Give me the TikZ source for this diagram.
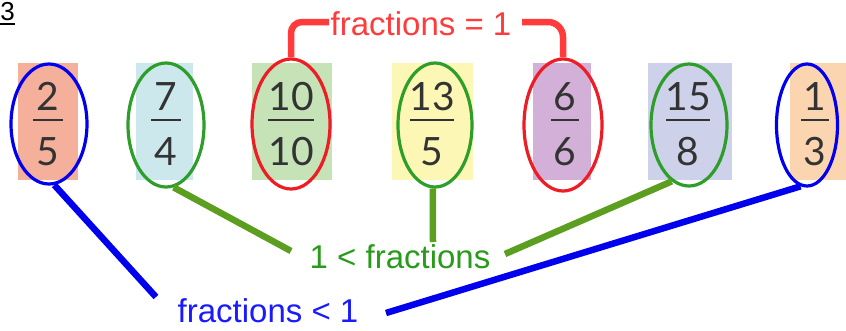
\documentclass[tikz,border=0pt]{standalone}
\usepackage{fontspec}
\usetikzlibrary{shapes.geometric}
\newfontfamily\fracfont{Lato}
\newfontfamily\labfont{Liberation Sans}
\definecolor{cA}{HTML}{F4B09A}
\definecolor{cB}{HTML}{CCE8EC}
\definecolor{cC}{HTML}{C5E3B6}
\definecolor{cD}{HTML}{FDF7B5}
\definecolor{cE}{HTML}{D3B0D8}
\definecolor{cF}{HTML}{CDD1EA}
\definecolor{cG}{HTML}{FBD5B0}
\definecolor{ringblue}{HTML}{0000EE}
\definecolor{ringgreen}{HTML}{2E9E2A}
\definecolor{ringred}{HTML}{EE1C25}
\definecolor{linkgreen}{HTML}{5C9E1F}
\definecolor{linkred}{HTML}{FF3B3B}
\definecolor{txtgreen}{HTML}{2A9A1C}
\definecolor{txtblue}{HTML}{1A1AFF}
\definecolor{digit}{HTML}{333333}
\tikzset{
  card/.style={fill=#1, draw=none},
  ring/.style={ellipse, draw=#1, line width=3.2pt, inner sep=0pt, fill=none},
  num/.style={font=\fracfont\fontsize{39}{39}\selectfont, text=digit, inner sep=0pt, anchor=base},
  bar/.style={draw=digit, line width=2pt},
  lab/.style={font=\labfont\fontsize{33}{33}\selectfont, inner sep=0pt, anchor=base},
  link/.style={line width=6.5pt, draw=#1},
}
\begin{document}
\begin{tikzpicture}[x=1pt,y=-1pt]
\clip (0,0) rectangle (846,330);
\fill[white] (0,0) rectangle (846,330);
% title
\node[font=\labfont\fontsize{26}{26}\selectfont, inner sep=0pt, anchor=base east, text=black] (title) at (15,20.5) {3};
\draw[line width=1.6pt] (0,24) -- (15,24);
% cards
\fill[card=cA] (18,63) rectangle (78,180);
\fill[card=cB] (136,63) rectangle (193,180);
\fill[card=cC] (252,63) rectangle (332,180);
\fill[card=cD] (392,63) rectangle (473,180);
\fill[card=cE] (533,63) rectangle (591,180);
\fill[card=cF] (648,63) rectangle (732,180);
\fill[card=cG] (790,63) rectangle (846,180);
% fractions
\node[num] (n1) at (48,110) {2};  \node[num] (d1) at (48,165) {5};
\draw[bar] (33,120) -- (63,120);
\node[num] (n2) at (166,110) {7}; \node[num] (d2) at (166,165) {4};
\draw[bar] (151,120) -- (181,120);
\node[num] (n3) at (291,110) {10}; \node[num] (d3) at (291,165) {10};
\draw[bar] (268,120) -- (314,120);
\node[num] (n4) at (432,110) {13}; \node[num] (d4) at (432,165) {5};
\draw[bar] (410,120) -- (454,120);
\node[num] (n5) at (565,110) {6}; \node[num] (d5) at (565,165) {6};
\draw[bar] (551,120) -- (579,120);
\node[num] (n6) at (688,110) {15}; \node[num] (d6) at (688,165) {8};
\draw[bar] (666,120) -- (710,120);
\node[num] (n7) at (815,110) {1}; \node[num] (d7) at (815,165) {3};
\draw[bar] (801,120) -- (829,120);
% rings
\node[ring=ringblue, minimum width=76pt, minimum height=120pt] (e1) at (49,124) {};
\node[ring=ringgreen, minimum width=76pt, minimum height=124pt] (e2) at (166,125) {};
\node[ring=ringred, minimum width=78pt, minimum height=130pt] (e3) at (291,124) {};
\node[ring=ringgreen, minimum width=74pt, minimum height=124pt] (e4) at (435,125) {};
\node[ring=ringred, minimum width=78pt, minimum height=132pt] (e5) at (563,125) {};
\node[ring=ringgreen, minimum width=76pt, minimum height=122pt] (e6) at (689,125) {};
\node[ring=ringblue, minimum width=61pt, minimum height=122pt] (e7) at (807,125) {};
% labels
\node[lab, text=linkred] (eq) at (421,35) {fractions = 1};
\node[lab, text=txtgreen] (gt) at (400,268) {1 < fractions};
\node[lab, text=txtblue] (lt) at (268,322) {fractions < 1};
% free ends
\coordinate (g1) at (291,251);
\coordinate (g2) at (433,242);
\coordinate (g3) at (505,254);
\coordinate (b1) at (156,297);
\coordinate (b2) at (386,313);
\coordinate (r1) at (329,22);
\coordinate (r2) at (522,22);
% connectors
\draw[link=linkred, rounded corners=11pt] (e3.north) -- (e3.north |- r1) -- (r1);
\draw[link=linkred, rounded corners=15pt] (r2) -- (e5.north |- r2) -- (e5.north);
\draw[link=linkgreen] (e2.-83) -- (g1);
\draw[link=linkgreen] (e4.-92) -- (g2);
\draw[link=linkgreen] (e6.-107) -- (g3);
\draw[link=ringblue] (e1.-85) -- (b1);
\draw[link=ringblue] (e7.-96) -- (b2);
\end{tikzpicture}
\end{document}
